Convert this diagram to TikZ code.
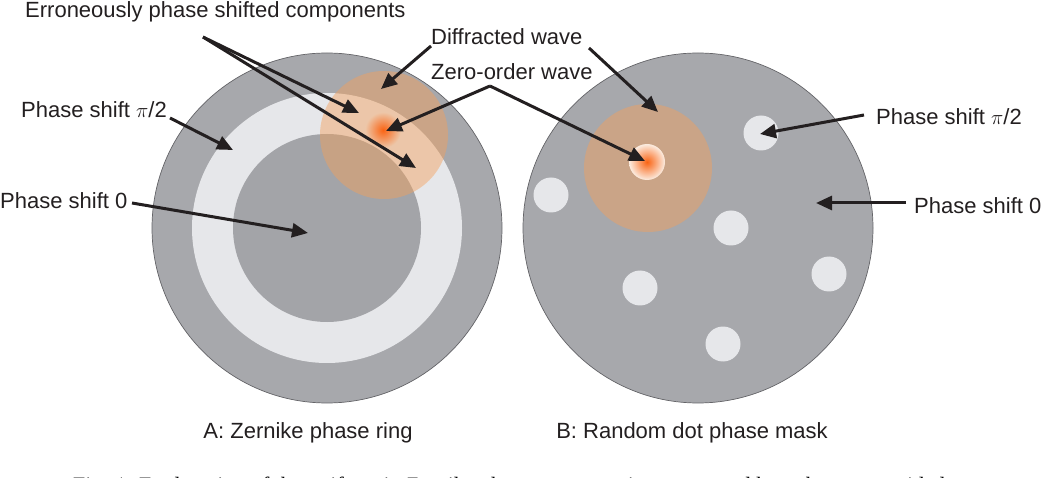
\documentclass[tikz,border=0pt]{standalone}
\usepackage{fontspec}
\setmainfont{Liberation Sans}
\newfontfamily\capfont{Liberation Serif}
\usetikzlibrary{arrows.meta}
\definecolor{maskgray}{RGB}{167,168,172}
\definecolor{innergray}{RGB}{163,164,168}
\definecolor{ringlight}{RGB}{230,231,234}
\definecolor{rimgray}{RGB}{100,100,104}
\definecolor{peach}{RGB}{245,160,90}
\definecolor{peachlight}{RGB}{237,199,169}
\definecolor{hotorange}{RGB}{250,100,20}
\definecolor{spotlight}{RGB}{251,236,224}
\definecolor{arrowblack}{RGB}{35,31,32}
\begin{document}
\begin{tikzpicture}[x=1pt,y=-1pt,
  lbl/.style={font=\fontsize{22}{26}\selectfont, inner sep=0pt, text=arrowblack},
  arr/.style={line width=3pt, draw=arrowblack, line join=miter, -{Triangle[length=16pt,width=14pt]}},
  maskdisk/.style={fill=maskgray, draw=rimgray, line width=0.7pt},
  lightdisk/.style={fill=ringlight},
  wave/.style={fill=peach, fill opacity=0.45}]
\useasboundingbox (0,0) rectangle (1044,478);
\clip (0,0) rectangle (1044,478);

% ---- A: Zernike phase ring ----
\path[maskdisk] (327,228) circle[radius=175pt];
\path[lightdisk] (327,228) circle[radius=135pt];
\path[fill=innergray] (327,228) circle[radius=94pt];
\path[wave] (384,135) circle[radius=64pt];
\shade[inner color=hotorange, outer color=peachlight] (383,130) circle[radius=18pt];

% ---- B: Random dot phase mask ----
\path[maskdisk] (698,228) circle[radius=175pt];
\foreach \p in {(761,133),(551,195),(731,228),(829,274),(640,288),(723,344)}
  \path[lightdisk] \p circle[radius=17.5pt];
\path[wave] (648,168) circle[radius=64pt];
\shade[inner color=hotorange, outer color=spotlight] (647,162) circle[radius=18pt];

% ---- labels ----
\node[lbl, anchor=west] (err) at (25,12) {Erroneously phase shifted components};
\node[lbl, anchor=west] (diff) at (431,37) {Diffracted wave};
\node[lbl, anchor=west] (zero) at (431,72) {Zero-order wave};
\node[lbl, anchor=west] (lps2) at (21,110) {Phase shift $\pi$/2};
\node[lbl, anchor=west] (lps0) at (0,201) {Phase shift 0};
\node[lbl, anchor=west] (rps2) at (876,117) {Phase shift $\pi$/2};
\node[lbl, anchor=west] (rps0) at (914,206) {Phase shift 0};
\node[lbl] (capA) at (308,433) {A: Zernike phase ring};
\node[lbl] (capB) at (692,433) {B: Random dot phase mask};
\node[inner sep=0pt, anchor=base west, font=\capfont\fontsize{22}{26}\selectfont] (fig) at (73,492)
  {Fig. 1. Explanation of the artifacts in Zernike phase contrast microscopy and how they are avoided};

% ---- arrow targets and starts ----
\coordinate (e1) at (203,37);
\coordinate (eT1) at (359,113);
\coordinate (eT2) at (416,168);
\coordinate (d1) at (431,46);
\coordinate (dT1) at (381,89);
\coordinate (d2) at (589,48);
\coordinate (dT2) at (658,112);
\coordinate (z1) at (490,86);
\coordinate (zT1) at (386,131);
\coordinate (zT2) at (645,161);
\coordinate (l2) at (170,118);
\coordinate (l2T) at (233,150);
\coordinate (l0) at (132,203);
\coordinate (l0T) at (308,233);
\coordinate (r2) at (864,115);
\coordinate (r2T) at (760,134);
\coordinate (r0) at (906,203);
\coordinate (r0T) at (816,203);

\draw[arr] (e1) -- (eT1);
\draw[arr] (e1) -- (eT2);
\draw[arr] (d1) -- (dT1);
\draw[arr] (d2) -- (dT2);
\draw[arr] (z1) -- (zT1);
\draw[arr] (z1) -- (zT2);
\draw[arr] (l2) -- (l2T);
\draw[arr] (l0) -- (l0T);
\draw[arr] (r2) -- (r2T);
\draw[arr] (r0) -- (r0T);
\end{tikzpicture}
\end{document}
